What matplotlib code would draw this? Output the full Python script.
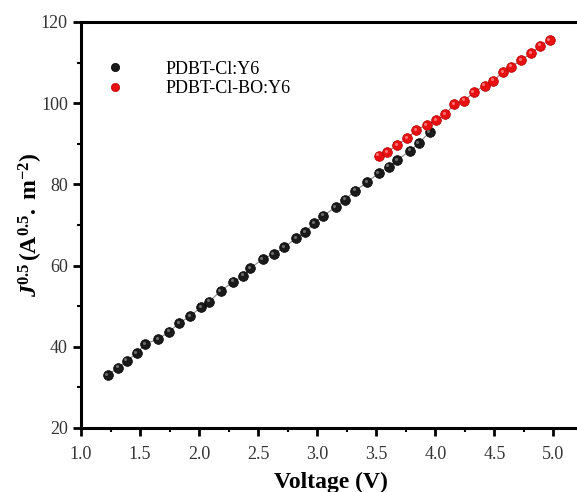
import numpy as np
import matplotlib
matplotlib.use('Agg')
import matplotlib.pyplot as plt
from matplotlib.ticker import MultipleLocator
from matplotlib.transforms import offset_copy

plt.rcParams['font.family'] = ['Liberation Serif', 'DejaVu Serif']
plt.rcParams['mathtext.fontset'] = 'custom'
plt.rcParams['mathtext.rm'] = 'Liberation Serif'
plt.rcParams['mathtext.bf'] = 'Liberation Serif:bold'
plt.rcParams['mathtext.it'] = 'Liberation Serif:italic'
plt.rcParams['mathtext.bfit'] = 'Liberation Serif:bold:italic'

# PDBT-Cl:Y6
v_cl = [1.226, 1.316, 1.387, 1.472, 1.542, 1.655, 1.746, 1.831, 1.924, 2.017,
        2.085, 2.182, 2.291, 2.375, 2.432, 2.540, 2.630, 2.723, 2.822, 2.898,
        2.975, 3.053, 3.157, 3.237, 3.322, 3.421, 3.519, 3.604, 3.675, 3.788,
        3.858, 3.952]
j_cl = [33.05, 34.85, 36.57, 38.40, 40.69, 41.92, 43.72, 45.79, 47.59, 49.73,
        51.11, 53.74, 56.03, 57.51, 59.33, 61.63, 62.86, 64.51, 66.80, 68.28,
        70.42, 72.29, 74.43, 76.28, 78.45, 80.52, 82.73, 84.36, 86.01, 88.30,
        90.12, 92.83]

# PDBT-Cl-BO:Y6
v_bo = [3.519, 3.591, 3.675, 3.763, 3.839, 3.928, 4.008, 4.085, 4.161, 4.246,
        4.325, 4.418, 4.489, 4.574, 4.644, 4.729, 4.811, 4.890, 4.969]
j_bo = [87.07, 87.91, 89.70, 91.43, 93.40, 94.63, 95.74, 97.34, 99.73, 100.62,
        102.69, 104.31, 105.55, 107.61, 108.99, 110.64, 112.29, 114.16, 115.57]

fig = plt.figure(figsize=(5.77, 4.92), dpi=100)
ax = fig.add_axes([81/577, 64/492, 499/577, 406/492])

ax.plot(v_cl, j_cl, color='#888888', lw=0.8, zorder=1)
ax.plot(v_cl, j_cl, 'o', ms=7, mfc='#1a1a1a', mec='#000000', mew=0.5,
        label='PDBT-Cl:Y6', zorder=2)
ax.plot(v_bo, j_bo, color='#aa6666', lw=0.8, zorder=1)
ax.plot(v_bo, j_bo, 'o', ms=7, mfc='#e81010', mec='#b00000', mew=0.5,
        label='PDBT-Cl-BO:Y6', zorder=3)
# small highlights (upper left) to suggest shaded spheres
hl = offset_copy(ax.transData, fig=fig, x=-1.0, y=1.0, units='points')
ax.plot(v_cl, j_cl, 'o', ms=2.2, mfc='#777777', mec='none', alpha=0.9,
        transform=hl, zorder=4)
ax.plot(v_bo, j_bo, 'o', ms=2.2, mfc='#ff8080', mec='none', alpha=0.9,
        transform=hl, zorder=4)

# right spine sits just past the image edge, as in the original crop
ax.set_xlim(1.0, 5.225)
ax.set_ylim(20, 120)
ax.xaxis.set_major_locator(MultipleLocator(0.5))
ax.xaxis.set_minor_locator(MultipleLocator(0.25))
ax.yaxis.set_major_locator(MultipleLocator(20))
ax.yaxis.set_minor_locator(MultipleLocator(10))
ax.tick_params(which='major', direction='out', length=6, width=2,
               labelsize=13, labelcolor='#333333')
ax.tick_params(axis='x', which='major', pad=7)
ax.tick_params(which='minor', direction='out', length=3, width=1.5)
for s in ax.spines.values():
    s.set_linewidth(2.2)

ax.set_xlabel('Voltage (V)', fontsize=17, fontweight='bold', labelpad=6)
ax.set_ylabel(r'$\mathbfit{J}^{\mathbf{0.5}}\,\mathbf{(A^{0.5}.\ m^{-2})}$',
              fontsize=17, labelpad=-3)

ax.legend(loc='upper left', bbox_to_anchor=(0.0, 0.945), frameon=False,
          fontsize=13, handletextpad=1.8, markerscale=0.85, labelspacing=0.15)

fig.savefig('out.png', dpi=100)
